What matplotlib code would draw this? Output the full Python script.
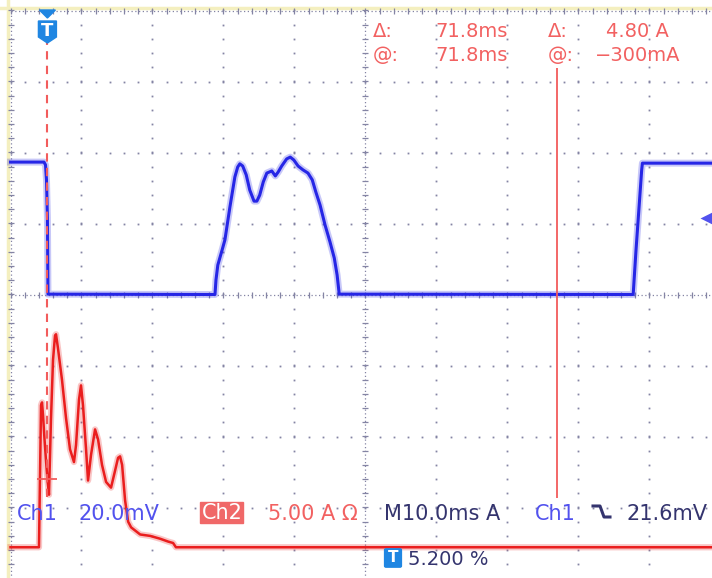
import numpy as np
import matplotlib.pyplot as plt
from matplotlib.lines import Line2D
from matplotlib.patches import Polygon, Rectangle, FancyBboxPatch

# Scope settings
ms_per_div = 10.0
ch1_mv_per_div = 20.0
ch2_a_per_div = 5.0
ch2_offset_div = -3.5
trig_pos_pct = 5.2
trig_level_mv = 21.6

# Ch1 trace: time (ms) / voltage (mV)
ch1_t = [-5.2, -0.48, -0.27, -0.13, 0.0, 0.08, 23.6, 23.74, 24.0, 24.6, 25.0,
         25.7, 26.4, 26.8, 27.1, 27.5, 28.0, 28.5, 29.1, 29.5, 29.9, 30.4, 30.9,
         31.6, 32.1, 32.5, 33.0, 33.7, 34.2, 34.7, 35.3, 36.0, 36.7, 37.3, 37.8,
         38.4, 39.1, 39.8, 40.4, 40.8, 41.1, 82.5, 82.9, 83.3, 83.7, 83.8, 93.6]
ch1_mv = [37.3, 37.3, 36.5, 32.3, 21.6, 0.1, 0.0, 4.1, 8.3, 12.5, 15.4,
          24.6, 33.1, 35.9, 36.8, 36.2, 33.7, 29.4, 26.3, 26.3, 28.0, 31.7, 34.2,
          34.8, 33.4, 34.5, 36.2, 38.2, 38.7, 37.9, 36.2, 35.1, 34.2, 32.3, 28.9,
          25.2, 19.6, 14.8, 10.3, 5.5, 0.1, 0.0, 12.5, 23.8, 35.1, 37.0, 37.0]

# Ch2 trace: time (ms) / current (A)
ch2_t = [-5.2, -1.19, -0.90, -0.76, -0.62, -0.41, -0.20, 0.0, 0.22, 0.50, 0.79,
         1.07, 1.21, 1.49, 2.05, 2.62, 3.18, 3.74, 4.03, 4.45, 4.73, 5.01, 5.44,
         5.72, 6.14, 6.71, 7.13, 7.69, 8.26, 8.96, 9.53, 9.95, 10.23, 10.52, 10.94,
         11.37, 11.79, 13.06, 14.47, 15.88, 17.0, 17.7, 18.1, 93.6]
ch2_a = [-0.3, -0.3, 9.7, 9.9, 9.0, 7.3, 5.8, 4.5, 3.4, 8.7, 12.9,
         14.6, 14.7, 13.7, 11.5, 8.8, 6.6, 5.7, 6.9, 10.1, 11.1, 9.7, 6.6,
         4.4, 6.2, 8.0, 7.3, 5.5, 4.3, 3.9, 5.1, 6.0, 6.1, 5.5, 3.0,
         1.5, 1.1, 0.6, 0.5, 0.3, 0.1, 0.0, -0.3, -0.3]

# Cursors (ms) and the Ch2 values they read
cursor_t = [0.0, 71.8]
cursor_a = [4.5, -0.3]

W, H = 712, 578
px_per_div = 71.0
px_per_ms = px_per_div / ms_per_div
left_px, mid_px = 10.5, 294.5

t0 = -trig_pos_pct / 100 * 10 * ms_per_div

blue = '#2626e6'
red = '#ea1e1e'
txt_red = '#f26161'
txt_blue = '#5252ee'
navy = '#34346e'
azure = '#1f86e2'
grid_c = '#8484a4'


def fx(px):
    return px / W


def fy(py):
    return 1 - py / H


def div_y(py):
    return (mid_px - py) / px_per_div


fig = plt.figure(figsize=(W / 100, H / 100), dpi=100)
ax = fig.add_axes([0, 0, 1, 1])
ax.set_xlim(t0 - left_px / px_per_ms, t0 + (W - left_px) / px_per_ms)
ax.set_ylim(div_y(H), div_y(0))
ax.axis('off')

# graticule: dotted grid lines
vx = [t0 + k * ms_per_div for k in range(11)]
minor_y = np.arange(-4, 4.001, 0.2)
minor_x = np.arange(t0, t0 + 100.01, 2.0)
for x in vx[1:]:
    if abs(x - (t0 + 50)) > 1e-6:
        ax.plot(np.full_like(minor_y, x), minor_y, ls='none', marker='s',
                ms=1.3, mec='none', mfc=grid_c, zorder=1)
for y in range(-3, 4):
    if y != 0:
        ax.plot(minor_x, np.full_like(minor_x, y), ls='none', marker='s',
                ms=1.3, mec='none', mfc=grid_c, zorder=1)

# center axes and top/left border with minor ticks
tick_y = 3 / px_per_div
tick_x = 3 / px_per_ms
for y in (0, 4):
    ax.plot([t0, t0 + 100], [y, y], color=grid_c, lw=0.9, dashes=(1, 2), zorder=1)
    ax.vlines(minor_x, y - tick_y, y + tick_y, color=grid_c, lw=0.9, zorder=1)
for x in (t0, t0 + 50):
    ax.plot([x, x], [-4, 4], color=grid_c, lw=0.9, dashes=(1, 2), zorder=1)
    ax.hlines(minor_y, x - tick_x, x + tick_x, color=grid_c, lw=0.9, zorder=1)

# pale frame just outside the graticule
ax.axhline(div_y(7.5), color='#f4efbf', lw=2.5, zorder=0)
ax.axvline(t0 - 2.5 / px_per_ms, color='#f4efbf', lw=2.5, zorder=0)

# traces
y1 = np.array(ch1_mv) / ch1_mv_per_div
y2 = np.array(ch2_a) / ch2_a_per_div + ch2_offset_div
ax.plot(ch1_t, y1, color=blue, lw=5, alpha=0.25, solid_joinstyle='round', zorder=3)
ax.plot(ch1_t, y1, color=blue, lw=2.2, zorder=4)
ax.plot(ch2_t, y2, color=red, lw=4.5, alpha=0.25, solid_joinstyle='round', zorder=3)
ax.plot(ch2_t, y2, color=red, lw=1.8, zorder=4)

# cursors
ax.vlines(cursor_t[0], div_y(497), div_y(42), color='#f25c5c', lw=1.5,
          linestyles=(0, (4, 3)), zorder=5)
ax.vlines(cursor_t[1], div_y(498), div_y(68), color='#f25c5c', lw=1.3, zorder=5)
c1y = cursor_a[0] / ch2_a_per_div + ch2_offset_div
ax.hlines(c1y, cursor_t[0] - 10 / px_per_ms, cursor_t[0] + 10 / px_per_ms,
          color='#f25c5c', lw=1.3, zorder=5)

# trigger position marker
tw = 8 / px_per_ms
ax.add_patch(Polygon([(-tw, div_y(10)), (tw, div_y(10)), (0, div_y(18))],
                     closed=True, color=azure, zorder=6))
sw = 9 / px_per_ms
ax.add_patch(Polygon([(-sw, div_y(21)), (sw, div_y(21)), (sw, div_y(37)),
                      (0, div_y(43)), (-sw, div_y(37))],
                     closed=True, color=azure, zorder=6))
ax.text(0, div_y(31), 'T', color='white', fontsize=13, fontweight='bold',
        ha='center', va='center', zorder=7)

# trigger level arrow on the right edge
ax.plot(ax.get_xlim()[1] - 4 / px_per_ms, trig_level_mv / ch1_mv_per_div,
        marker='<', ms=12, color=txt_blue, mec='none', zorder=6)

# cursor readouts
fs_top = 14
for row, base in ((0, 37), (1, 61)):
    lab = 'Δ:' if row == 0 else '@:'
    fig.text(fx(373), fy(base), lab, color=txt_red, fontsize=fs_top, va='baseline')
    fig.text(fx(548), fy(base), lab, color=txt_red, fontsize=fs_top, va='baseline')
    fig.text(fx(508), fy(base), f'{cursor_t[1] - cursor_t[0]:.1f}ms' if row == 0
             else f'{cursor_t[1]:.1f}ms', color=txt_red, fontsize=fs_top,
             va='baseline', ha='right')
fig.text(fx(606), fy(37), f'{abs(cursor_a[0] - cursor_a[1]):.2f} A', color=txt_red,
         fontsize=fs_top, va='baseline')
fig.text(fx(595), fy(61), f'\u2212{abs(cursor_a[1]) * 1000:.0f}mA', color=txt_red,
         fontsize=fs_top, va='baseline')

# channel / timebase status line
fs_bot = 15
fig.text(fx(17), fy(520), 'Ch1', color=txt_blue, fontsize=fs_bot, va='baseline')
fig.text(fx(78), fy(520), f'{ch1_mv_per_div:.1f}mV', color=txt_blue,
         fontsize=fs_bot, va='baseline')
fig.patches.append(Rectangle((fx(200), fy(523)), fx(43), 21 / H, color='#f06868',
                             transform=fig.transFigure, figure=fig))
fig.text(fx(202), fy(519), 'Ch2', color='white', fontsize=fs_bot, va='baseline')
fig.text(fx(268), fy(520), f'{ch2_a_per_div:.2f} A \u03a9', color=txt_red,
         fontsize=fs_bot, va='baseline')
fig.text(fx(384), fy(520), f'M{ms_per_div:.1f}ms A', color=navy,
         fontsize=fs_bot, va='baseline')
fig.text(fx(535), fy(520), 'Ch1', color=txt_blue, fontsize=fs_bot, va='baseline')
fig.lines.append(Line2D([fx(593), fx(600), fx(604), fx(610)],
                        [fy(506), fy(506), fy(517), fy(517)], color=navy, lw=2.2,
                        transform=fig.transFigure, figure=fig))
fig.text(fx(627), fy(520), f'{trig_level_mv:.1f}mV', color=navy,
         fontsize=fs_bot, va='baseline')

# trigger position readout
fig.patches.append(FancyBboxPatch((fx(386), fy(566)), fx(14), 16 / H,
                                  boxstyle='round,pad=0.002', color=azure,
                                  transform=fig.transFigure, figure=fig))
fig.text(fx(393), fy(558), 'T', color='white', fontsize=11, fontweight='bold',
         ha='center', va='center')
fig.text(fx(408), fy(565), f'{trig_pos_pct:.3f} %', color=navy, fontsize=14,
         va='baseline')

fig.savefig('out.png', dpi=100)
